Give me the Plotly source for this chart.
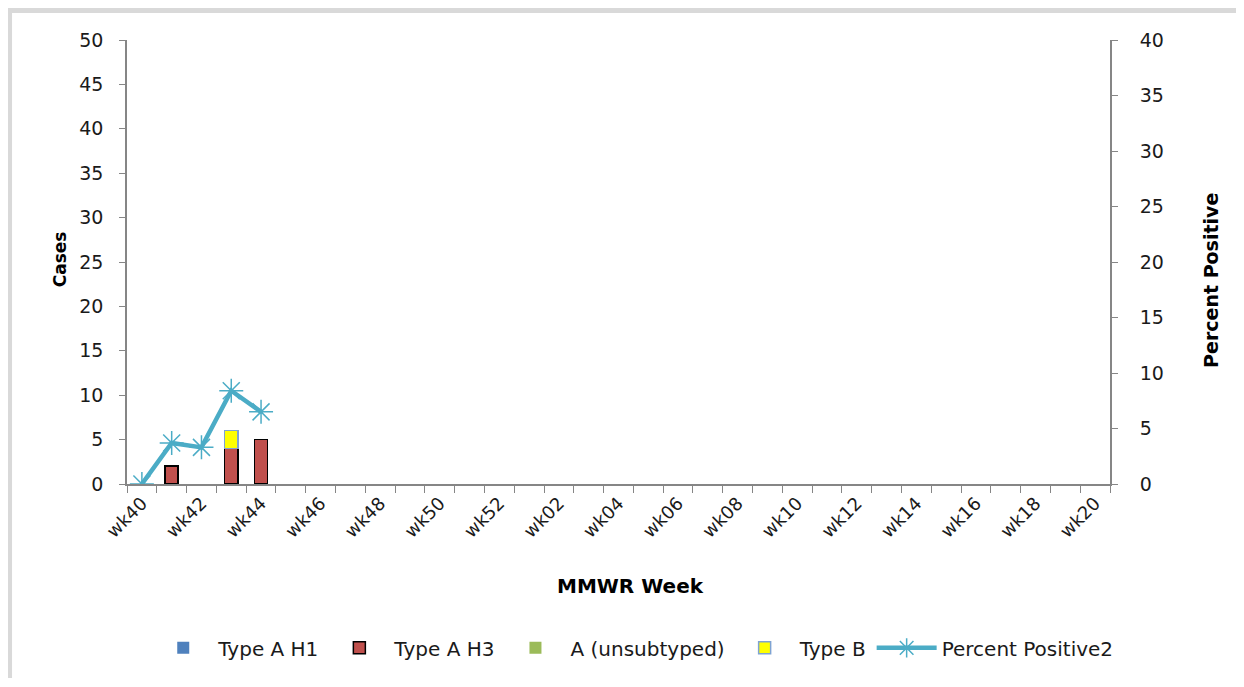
import plotly.graph_objects as go

weeks = [f"wk{w}" for w in range(40, 53)] + [f"wk{w:02d}" for w in range(1, 21)]
type_a_h1 = [0, 0, 0, 0, 0] + [None] * 28
type_a_h3 = [0, 2, 0, 4, 5] + [None] * 28
a_unsub = [0, 0, 0, 0, 0] + [None] * 28
type_b = [0, 0, 0, 2, 0] + [None] * 28
pct_pos = [0, 3.7, 3.3, 8.4, 6.5] + [None] * 28
tick_text = [w if i % 2 == 0 else "" for i, w in enumerate(weeks)]


def nz(vals):
    # zero-height bars are not drawn in the original
    return [v if v else None for v in vals]


FONT = "DejaVu Sans"
TXT = "#1a1a1a"
AX = "#868686"
NB = "\u00a0"

fig = go.Figure()
fig.add_bar(x=weeks, y=nz(type_a_h1), name="Type A H1", marker=dict(color="#4F81BD", line=dict(color="#4F81BD", width=0)), width=0.44)
fig.add_bar(x=weeks, y=nz(type_a_h3), name="Type A H3", marker=dict(color="#C0504D", line=dict(color="#000000", width=1.5)), width=0.44)
fig.add_bar(x=weeks, y=nz(a_unsub), name="A (unsubtyped)", marker=dict(color="#9BBB59", line=dict(color="#9BBB59", width=0)), width=0.44)
fig.add_bar(x=weeks, y=nz(type_b), name="Type B", marker=dict(color="#FFFF00", line=dict(color="#7FA3D3", width=1.5)), width=0.44)
fig.add_scatter(x=weeks, y=pct_pos, name="Percent Positive2", yaxis="y2", mode="lines+markers",
                line=dict(color="#4BACC6", width=4.5),
                marker=dict(symbol="asterisk-open", size=20, color="#4BACC6", line=dict(color="#4BACC6", width=1.5)))

fig.update_layout(
    width=1228, height=670,
    margin=dict(l=119, r=126, t=32, b=193),
    paper_bgcolor="white", plot_bgcolor="white",
    barmode="stack",
    font=dict(family=FONT, color=TXT, size=18),
    showlegend=True,
    legend=dict(orientation="h", x=0.515, xanchor="center", y=-0.366, yanchor="middle",
                traceorder="normal", font=dict(family=FONT, size=20, color=TXT), itemwidth=60),
    xaxis=dict(type="category", categoryorder="array", categoryarray=weeks,
               tickmode="array", tickvals=weeks, ticktext=tick_text, tickson="boundaries",
               tickangle=-45, ticks="outside", ticklen=7, tickcolor=AX,
               showline=True, linecolor=AX, linewidth=1.5, showgrid=False,
               range=[-0.5, 32.5], tickfont=dict(size=18, color=TXT)),
    yaxis=dict(range=[0, 50], dtick=5, ticks="outside", ticklen=6, tickcolor=AX,
               showline=True, linecolor=AX, linewidth=1.5, showgrid=False, zeroline=False,
               ticksuffix=NB * 2, tickfont=dict(size=19, color=TXT)),
    yaxis2=dict(range=[0, 40], dtick=5, overlaying="y", side="right", ticks="outside", ticklen=6,
                tickcolor=AX, showline=True, linecolor=AX, linewidth=1.5, showgrid=False,
                zeroline=False, tickprefix=NB * 3, tickfont=dict(size=19, color=TXT)),
    annotations=[
        dict(text="<b>Cases</b>", xref="paper", yref="paper", x=-0.0682, y=0.506, textangle=-90,
             xanchor="center", yanchor="middle", showarrow=False, font=dict(size=17, color="#000000")),
        dict(text="<b>Percent Positive</b>", xref="paper", yref="paper", x=1.102, y=0.458, textangle=-90,
             xanchor="center", yanchor="middle", showarrow=False, font=dict(size=19, color="#000000")),
        dict(text="<b>MMWR Week</b>", xref="paper", yref="paper", x=0.512, y=-0.229,
             xanchor="center", yanchor="middle", showarrow=False, font=dict(size=20, color="#000000")),
    ],
    shapes=[dict(type="rect", xref="paper", yref="paper", x0=-0.1195, x1=1.20, y0=-0.60, y1=1.0663,
                 line=dict(color="#D9D9D9", width=5), layer="below")],
)

fig.write_html("out.html")
